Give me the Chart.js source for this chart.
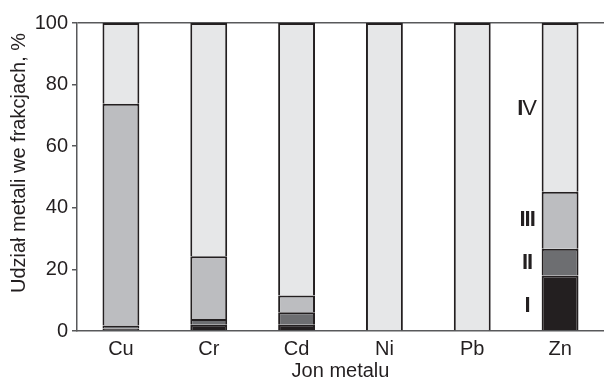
<!DOCTYPE html>
<html>
<head>
<meta charset="utf-8">
<script src="https://cdn.jsdelivr.net/npm/chart.js@4"></script>
<style>
  html, body { margin: 0; padding: 0; background: #fff; }
  #wrap { width: 604px; height: 383px; }
</style>
</head>
<body>
<div id="wrap"><canvas id="fractionChart"></canvas></div>
<script>
// --- Data ---
const metals = ['Cu', 'Cr', 'Cd', 'Ni', 'Pb', 'Zn'];
const fractionI   = [0.8, 2.0, 2.0, 0, 0, 18.0];
const fractionII  = [1.0, 1.9, 4.1, 0, 0, 8.7];
const fractionIII = [72.0, 20.4, 5.4, 0, 0, 18.5];
const fractionIV  = [26.2, 75.7, 88.5, 100, 100, 54.8];
const fractionNames = ['I', 'II', 'III', 'IV'];
const fractionLabelY = [8, 22, 36, 72]; // gdzie stoją opisy I-IV obok słupka Zn
const yTicks = [0, 20, 40, 60, 80, 100];
const yTitle = 'Udział metali we frakcjach, %';

const ink = '#231f20';
const axisCol = '#58595b';
const fills = ['#231f20', '#6d6e71', '#bcbdc0', '#e6e7e8'];
const FONT = '"Liberation Sans", Arial, sans-serif';

// opisy frakcji po lewej stronie słupka Zn + tytuł osi Y (lekko przesunięty w górę jak w oryginale)
const extraText = {
    id: 'extraText',
    afterDatasetsDraw(chart) {
        const { ctx, scales: { x, y } } = chart;
        const cx = x.getPixelForValue(metals.length - 1) - 33;
        ctx.save();
        ctx.fillStyle = ink;
        ctx.textBaseline = 'middle';
        ctx.textAlign = 'left';
        fractionNames.forEach((n, i) => {
            const parts = n.split('').map(ch => {
                const f = (ch === 'I' ? 'bold ' : '') + '22px ' + FONT;
                ctx.font = f;
                const w = ctx.measureText(ch).width - (ch === 'I' ? 1 : 0);
                return { ch, f, w };
            });
            const total = parts.reduce((s, p) => s + p.w, 0);
            let px = cx - total / 2;
            const py = y.getPixelForValue(fractionLabelY[i]);
            parts.forEach(p => { ctx.font = p.f; ctx.fillText(p.ch, px, py); px += p.w; });
        });

        ctx.translate(19, 163);
        ctx.rotate(-Math.PI / 2);
        ctx.textAlign = 'center';
        ctx.font = '20px ' + FONT;
        ctx.fillText(yTitle, 0, 0);
        ctx.restore();
    }
};

const series = [fractionI, fractionII, fractionIII, fractionIV];
const ctx = document.getElementById('fractionChart').getContext('2d');
new Chart(ctx, {
    type: 'bar',
    data: {
        labels: metals,
        datasets: series.map((d, i) => ({
            label: fractionNames[i],
            data: d,
            backgroundColor: fills[i],
            borderColor: ink,
            borderWidth: c => (c.raw ? 2 : 0),
            borderSkipped: 'start',
            barPercentage: 0.42,
            categoryPercentage: 1
        }))
    },
    options: {
        responsive: true,
        maintainAspectRatio: false,
        animation: false,
        layout: { padding: { top: 23, right: 0, left: 0, bottom: 0 } },
        plugins: { legend: { display: false }, tooltip: { enabled: false } },
        scales: {
            x: {
                stacked: true,
                grid: { display: false, drawTicks: false },
                border: { display: true, color: axisCol, width: 1.5 },
                ticks: { color: ink, padding: 6, font: { family: FONT, size: 20 } },
                title: { display: true, text: 'Jon metalu', color: ink, padding: 0,
                         font: { family: FONT, size: 20 } },
                afterFit(s) { s.height = 52; }
            },
            y: {
                stacked: true,
                min: 0,
                max: 100,
                afterBuildTicks(s) { s.ticks = yTicks.map(v => ({ value: v })); },
                grid: {
                    color: c => (c.tick && c.tick.value === 100 ? axisCol : 'transparent'),
                    lineWidth: 1.5,
                    tickColor: axisCol,
                    tickLength: 5
                },
                border: { display: true, color: axisCol, width: 1.5 },
                ticks: { color: ink, padding: 4, font: { family: FONT, size: 20 } },
                title: { display: false },
                afterFit(s) { s.width = 77; }
            }
        }
    },
    plugins: [extraText]
});
</script>
</body>
</html>
